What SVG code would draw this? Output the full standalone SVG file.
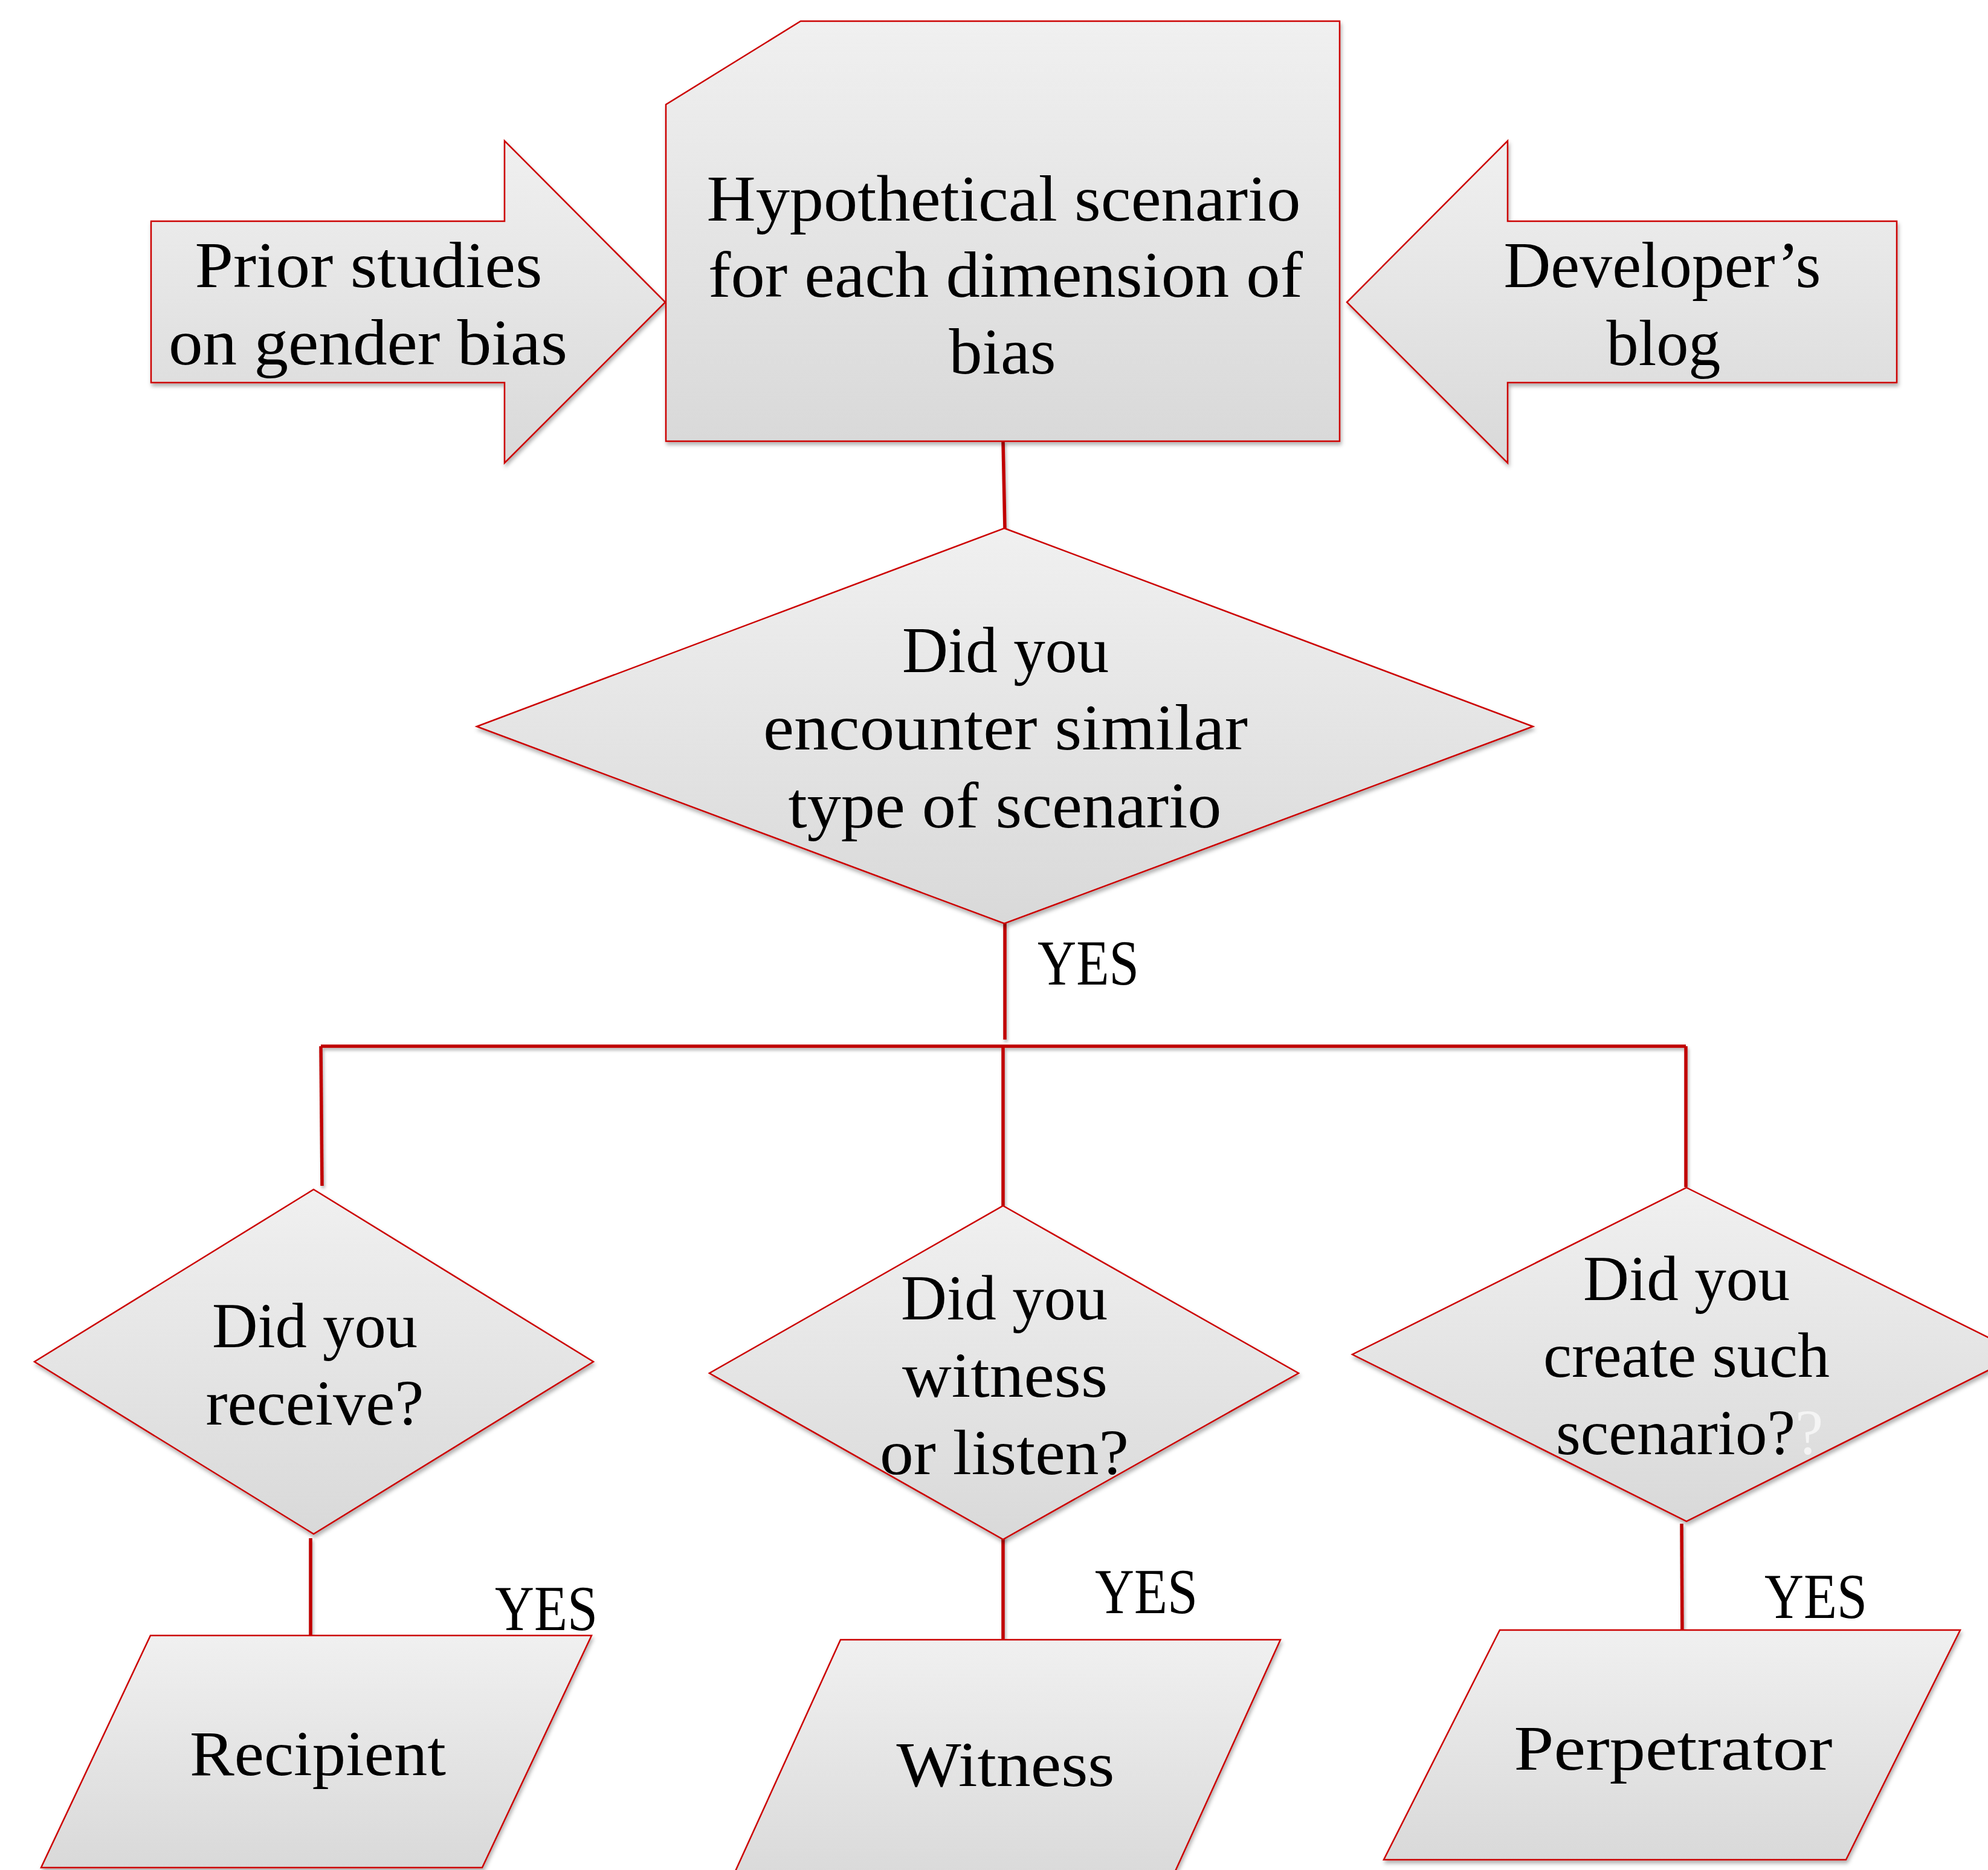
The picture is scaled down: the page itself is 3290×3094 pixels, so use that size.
<svg xmlns="http://www.w3.org/2000/svg" width="3290" height="3094" viewBox="0 0 3290 3094">
<defs>
<linearGradient id="g" x1="0" y1="0" x2="0" y2="1">
<stop offset="0" stop-color="#f0f0f0"/>
<stop offset="1" stop-color="#d9d9d9"/>
</linearGradient>
<filter id="sh" x="-10%" y="-10%" width="120%" height="120%">
<feDropShadow dx="2" dy="5" stdDeviation="3" flood-color="#000" flood-opacity="0.3"/>
</filter>
<filter id="shc" filterUnits="userSpaceOnUse" x="0" y="0" width="3290" height="3094">
<feDropShadow dx="2" dy="4" stdDeviation="2.5" flood-color="#000" flood-opacity="0.3"/>
</filter>
</defs>
<style>
.s{fill:url(#g);stroke:#cc0000;stroke-width:2.5;filter:url(#sh)}
.c{fill:none;stroke:#c00000;stroke-width:5.5}
text{font-family:"Liberation Serif","Times New Roman",serif;fill:#000;text-anchor:middle}
.t{font-size:108px}
.b{font-size:105px}
</style>
<rect width="3290" height="3094" fill="#fff"/>
<g id="connectors" filter="url(#shc)">
<line class="c" x1="1660" y1="730" x2="1663" y2="875"/>
<line class="c" x1="1663" y1="1528" x2="1663" y2="1720"/>
<line class="c" x1="531" y1="1731" x2="2790" y2="1731"/>
<line class="c" x1="531" y1="1731" x2="533" y2="1962"/>
<line class="c" x1="1660" y1="1731" x2="1660" y2="1995"/>
<line class="c" x1="2790" y1="1731" x2="2790" y2="1964"/>
<line class="c" x1="514" y1="2545" x2="514" y2="2720"/>
<line class="c" x1="1660" y1="2540" x2="1660" y2="2713"/>
<line class="c" x1="2783" y1="2521" x2="2784" y2="2713"/>
</g>
<g id="prior">
<polygon class="s" points="250,366 835,366 835,233 1101,500 835,766 835,633 250,633"/>
<text class="t" x="610" y="475" textLength="575" lengthAdjust="spacingAndGlyphs">Prior studies</text>
<text class="t" x="609" y="603" textLength="660" lengthAdjust="spacingAndGlyphs">on gender bias</text>
</g>
<g id="scenario">
<polygon class="s" points="1325,35 2217,35 2217,730 1102,730 1102,173"/>
<text class="t" x="1661" y="365" textLength="983" lengthAdjust="spacingAndGlyphs">Hypothetical scenario</text>
<text class="t" x="1664" y="491" textLength="984" lengthAdjust="spacingAndGlyphs">for each dimension of</text>
<text class="t" x="1659" y="618" textLength="177" lengthAdjust="spacingAndGlyphs">bias</text>
</g>
<g id="blog">
<polygon class="s" points="3139,366 2495,366 2495,233 2229,500 2495,766 2495,633 3139,633"/>
<text class="t" x="2751" y="475" textLength="525" lengthAdjust="spacingAndGlyphs">Developer’s</text>
<text class="t" x="2753" y="604" textLength="189" lengthAdjust="spacingAndGlyphs">blog</text>
</g>
<g id="encounter">
<polygon class="s" points="1662,874 2537,1202 1662,1528 789,1202"/>
<text class="t" x="1664" y="1112" textLength="342" lengthAdjust="spacingAndGlyphs">Did you</text>
<text class="t" x="1664" y="1240" textLength="802" lengthAdjust="spacingAndGlyphs">encounter similar</text>
<text class="t" x="1663" y="1369" textLength="717" lengthAdjust="spacingAndGlyphs">type of scenario</text>
</g>
<text class="b" x="1801" y="1629" textLength="168" lengthAdjust="spacingAndGlyphs">YES</text>
<g id="receive">
<polygon class="s" points="519,1968 982,2253 519,2538 57,2253"/>
<text class="b" x="521" y="2229" textLength="340" lengthAdjust="spacingAndGlyphs">Did you</text>
<text class="b" x="521" y="2357" textLength="361" lengthAdjust="spacingAndGlyphs">receive?</text>
</g>
<g id="witness">
<polygon class="s" points="1660,1995 2149,2272 1660,2547 1174,2272"/>
<text class="b" x="1662" y="2183" textLength="342" lengthAdjust="spacingAndGlyphs">Did you</text>
<text class="b" x="1663" y="2311" textLength="340" lengthAdjust="spacingAndGlyphs">witness</text>
<text class="b" x="1662" y="2439" textLength="412" lengthAdjust="spacingAndGlyphs">or listen?</text>
</g>
<g id="create">
<polygon class="s" points="2791,1965 3345,2240 2791,2517 2238,2241"/>
<text class="b" x="2791" y="2151" textLength="342" lengthAdjust="spacingAndGlyphs">Did you</text>
<text class="b" x="2791" y="2278" textLength="474" lengthAdjust="spacingAndGlyphs">create such</text>
<text class="b" x="2773" y="2406" textLength="396" lengthAdjust="spacingAndGlyphs">scenario?</text>
<text class="b" x="2994" y="2406" style="fill:#f4f4f4">?</text>
</g>
<g id="recipient">
<polygon class="s" points="249,2706 979,2706 798,3090 68,3090"/>
<text class="b" x="526" y="2937" textLength="424" lengthAdjust="spacingAndGlyphs">Recipient</text>
</g>
<text class="b" x="904" y="2697" textLength="170" lengthAdjust="spacingAndGlyphs">YES</text>
<g id="witnessout">
<polygon class="s" points="1391,2713 2119,2713 1934,3120 1206,3120"/>
<text class="b" x="1664" y="2955" textLength="361" lengthAdjust="spacingAndGlyphs">Witness</text>
</g>
<text class="b" x="1897" y="2669" textLength="170" lengthAdjust="spacingAndGlyphs">YES</text>
<g id="perpetrator">
<polygon class="s" points="2482,2697 3244,2697 3055,3077 2290,3077"/>
<text class="b" x="2769" y="2928" textLength="527" lengthAdjust="spacingAndGlyphs">Perpetrator</text>
</g>
<text class="b" x="3005" y="2677" textLength="170" lengthAdjust="spacingAndGlyphs">YES</text>
</svg>
